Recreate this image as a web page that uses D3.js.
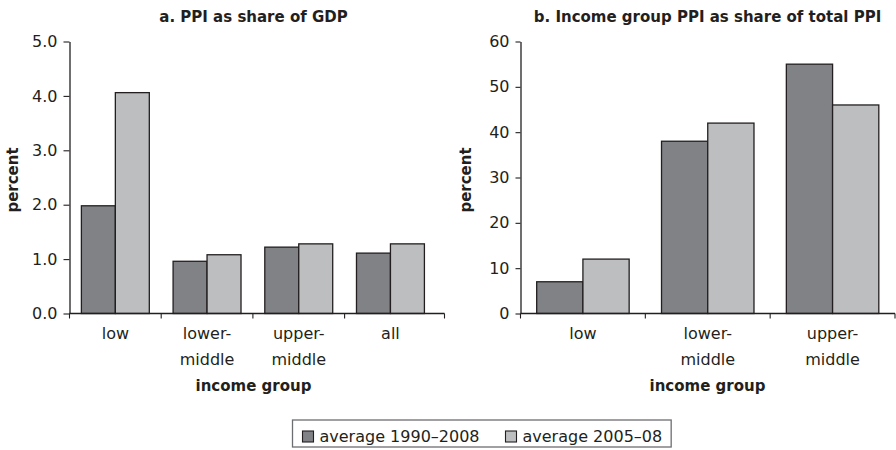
<!DOCTYPE html>
<html><head><meta charset="utf-8">
<script src="https://cdn.jsdelivr.net/npm/d3@7"></script>
<style>
body{margin:0;background:#fff}
text{font-family:"DejaVu Sans",sans-serif;fill:#231f20}
</style>
</head><body>
<svg id="c" width="896" height="450"></svg>
<script>
// ---- data ----
const series = ["average 1990–2008", "average 2005–08"];
const seriesColors = ["#808285", "#bcbec0"];

const categoriesA = ["low", "lower-middle", "upper-middle", "all"];
const categoryLinesA = [["low"], ["lower-", "middle"], ["upper-", "middle"], ["all"]];
const avg1990_2008A = [1.98, 0.96, 1.22, 1.11];
const avg2005_08A = [4.06, 1.08, 1.28, 1.28];
const yTicksA = [0, 1, 2, 3, 4, 5];
const yTickLabelsA = ["0.0", "1.0", "2.0", "3.0", "4.0", "5.0"];

const categoriesB = ["low", "lower-middle", "upper-middle"];
const categoryLinesB = [["low"], ["lower-", "middle"], ["upper-", "middle"]];
const avg1990_2008B = [7, 38, 55];
const avg2005_08B = [12, 42, 46];
const yTicksB = [0, 10, 20, 30, 40, 50, 60];
const yTickLabelsB = ["0", "10", "20", "30", "40", "50", "60"];

const titleA = "a. PPI as share of GDP";
const titleB = "b. Income group PPI as share of total PPI";
const yTitle = "percent";
const xTitle = "income group";

// ---- drawing ----
const svg = d3.select("#c");
const INK = "#231f20";

function panel(cfg) {
  const g = svg.append("g");
  const x0 = d3.scaleBand().domain(cfg.categories).range([cfg.left, cfg.right]).padding(0);
  const x1 = d3.scaleBand().domain(series).range([0, x0.bandwidth()]).paddingInner(0).paddingOuter(0.35);
  const y = d3.scaleLinear().domain([0, cfg.yMax]).range([313.5, 41.5]);

  // bars
  const rows = cfg.categories.map((c, i) => ({c, vals: [cfg.s1[i], cfg.s2[i]]}));
  const grp = g.selectAll("g.grp").data(rows).join("g")
    .attr("transform", d => `translate(${x0(d.c)},0)`);
  grp.selectAll("rect").data(d => d.vals.map((v, k) => ({k, v}))).join("rect")
    .attr("x", d => x1(series[d.k]))
    .attr("width", x1.bandwidth())
    .attr("y", d => y(d.v))
    .attr("height", d => y(0) - y(d.v))
    .attr("fill", d => seriesColors[d.k])
    .attr("stroke", INK).attr("stroke-width", 1.3);

  // y axis
  const ya = g.append("g").attr("transform", `translate(${cfg.left},0)`)
    .call(d3.axisLeft(y).tickValues(cfg.yTicks).tickSize(cfg.tickSize).tickPadding(cfg.tickPad).tickSizeOuter(0)
      .tickFormat((d, i) => cfg.yLabels[i]));
  ya.select(".domain").attr("stroke", INK).attr("stroke-width", 1.3);
  ya.selectAll(".tick line").attr("stroke", INK).attr("stroke-width", 1.1);
  ya.selectAll(".tick text").attr("font-size", 16).attr("font-family", "DejaVu Sans").attr("fill", INK);

  // x axis
  g.append("line").attr("x1", cfg.left).attr("x2", cfg.axisEnd)
    .attr("y1", y(0)).attr("y2", y(0)).attr("stroke", INK).attr("stroke-width", 1.3);
  const tickPos = cfg.categories.map(c => x0(c)).concat([cfg.axisEnd]);
  g.selectAll("line.xt").data(tickPos).join("line").attr("class", "xt")
    .attr("x1", d => d).attr("x2", d => d).attr("y1", y(0)).attr("y2", y(0) + 5)
    .attr("stroke", INK).attr("stroke-width", 1.1);
  const lab = g.selectAll("text.xl").data(cfg.categories).join("text").attr("class", "xl")
    .attr("text-anchor", "middle").attr("font-size", 16)
    .attr("transform", d => `translate(${x0(d) + x0.bandwidth() / 2},339)`);
  lab.selectAll("tspan").data((d, i) => cfg.lines[i]).join("tspan")
    .attr("x", 0).attr("y", (d, j) => j * 26).text(d => d);

  // titles
  g.append("text").attr("x", cfg.titleX).attr("y", 22).attr("text-anchor", "middle")
    .attr("font-size", 15).attr("font-weight", "bold").text(cfg.title);
  g.append("text").attr("x", cfg.titleX).attr("y", 391).attr("text-anchor", "middle")
    .attr("font-size", 15).attr("font-weight", "bold").text(xTitle);
  g.append("text").attr("transform", `translate(${cfg.yTitleX},180) rotate(-90)`)
    .attr("text-anchor", "middle").attr("font-size", 15).attr("font-weight", "bold").text(yTitle);
}

panel({categories: categoriesA, lines: categoryLinesA, s1: avg1990_2008A, s2: avg2005_08A,
  yMax: 5, yTicks: yTicksA, yLabels: yTickLabelsA, left: 69.5, right: 436.3, axisEnd: 444.5,
  tickSize: 6, tickPad: 6, title: titleA, titleX: 253.5, yTitleX: 18});
panel({categories: categoriesB, lines: categoryLinesB, s1: avg1990_2008B, s2: avg2005_08B,
  yMax: 60, yTicks: yTicksB, yLabels: yTickLabelsB, left: 520.5, right: 895, axisEnd: 895,
  tickSize: 5, tickPad: 6, title: titleB, titleX: 707.5, yTitleX: 471});

// legend
const lg = svg.append("g");
const legX = 292.5, legY = 420;
const itemX = [302.5, 505.5];
const items = lg.selectAll("g").data(series).join("g")
  .attr("transform", (d, i) => `translate(${itemX[i]},${legY})`);
items.append("rect").attr("x", 0).attr("y", 11).attr("width", 11).attr("height", 11)
  .attr("fill", (d, i) => seriesColors[i]).attr("stroke", INK).attr("stroke-width", 1.1);
items.append("text").attr("x", 17).attr("y", 22).attr("font-size", 16).text(d => d);
// box sized from content
const bb = lg.node().getBBox();
lg.insert("rect", ":first-child").attr("x", legX).attr("y", legY)
  .attr("width", bb.x + bb.width + 9 - legX).attr("height", 27)
  .attr("fill", "none").attr("stroke", "#6d6e71").attr("stroke-width", 1.3);
</script>
</body></html>
